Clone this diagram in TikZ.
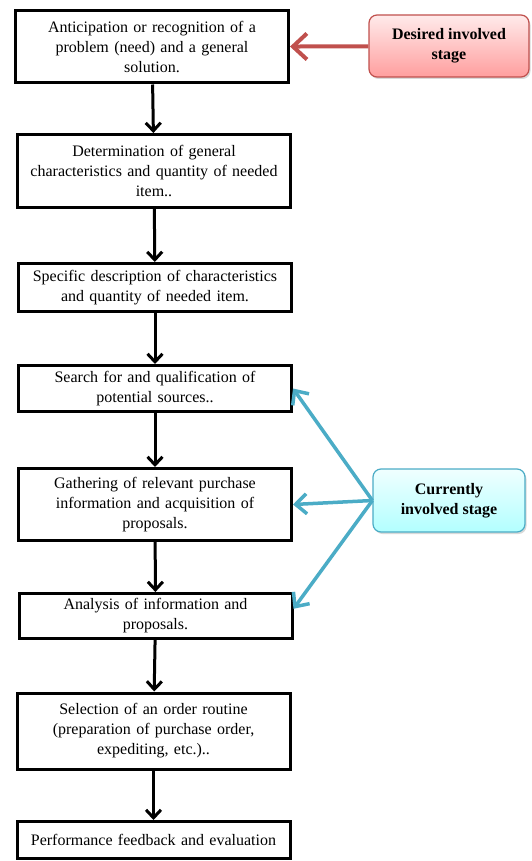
\documentclass[tikz,border=0pt]{standalone}
\usepackage{fontspec}
\setmainfont{Liberation Serif}
\usetikzlibrary{arrows.meta,shadows}

\definecolor{redline}{RGB}{192,80,77}
\definecolor{blueline}{RGB}{75,172,198}

\tikzset{
  stagebox/.style={minimum width=273pt,text width=268pt},
  notebox/.style={rounded corners=8pt,line width=1.2pt,
    drop shadow={opacity=0.3,shadow xshift=1.5pt,shadow yshift=-2pt},
    font=\fontsize{16}{20}\selectfont\bfseries}
}

\begin{document}
\begin{tikzpicture}
   [x=1pt,y=-1pt,>={Straight Barb[length=8pt,width=15pt]},
    every node/.style={draw=black,line width=3pt,fill=white,align=center,inner sep=2pt,
      font=\fontsize{16}{20}\selectfont}]

  \useasboundingbox (0,0) rectangle (531,861);

  \node[stagebox,minimum height=72pt] (s1) at (152,47)    {Anticipation or recognition of a\\ problem (need) and a general\\ solution.};
  \node[stagebox,minimum height=73pt] (s2) at (154,171)   {Determination of general\\ characteristics and quantity of needed\\ item..};
  \node[stagebox,minimum height=48pt] (s3) at (155,287.5) {Specific description of characteristics\\ and quantity of needed item.};
  \node[stagebox,minimum height=46pt] (s4) at (155,388.5) {Search for and qualification of\\ potential sources..};
  \node[stagebox,minimum height=72pt] (s5) at (155,504.5) {Gathering of relevant purchase\\ information and acquisition of\\ proposals.};
  \node[stagebox,minimum height=45pt] (s6) at (155.5,616) {Analysis of information and\\ proposals.};
  \node[stagebox,minimum height=76pt] (s7) at (153.5,731) {Selection of an order routine\\ (preparation of purchase order,\\ expediting, etc.)..};
  \node[stagebox,minimum height=37pt] (s8) at (153.5,840) {Performance feedback and evaluation};

  \node[notebox,draw=redline,top color=red!8,bottom color=red!38!white,
        minimum width=160pt,minimum height=62pt] (des) at (449,46) {Desired involved\\ stage};
  \node[notebox,draw=blueline,top color=cyan!6,bottom color=cyan!30!white,
        minimum width=152pt,minimum height=63pt] (cur) at (449,500.5) {Currently\\ involved stage};

  \foreach \from/\to in {s1/s2,s2/s3,s3/s4,s4/s5,s5/s6,s6/s7,s7/s8}
    \draw[->, line width=3pt] (\from) -- (\to);

  \draw[-{Straight Barb[length=14pt,width=26pt]}, redline, line width=4pt] (des) -- (s1);

  \foreach \to/\at in {s4/east,s5/east,s6/3}
    \draw[-{Straight Barb[length=11pt,width=20pt]}, blueline, line width=3.5pt] (cur.west) -- (\to.\at);

\end{tikzpicture}
\end{document}
